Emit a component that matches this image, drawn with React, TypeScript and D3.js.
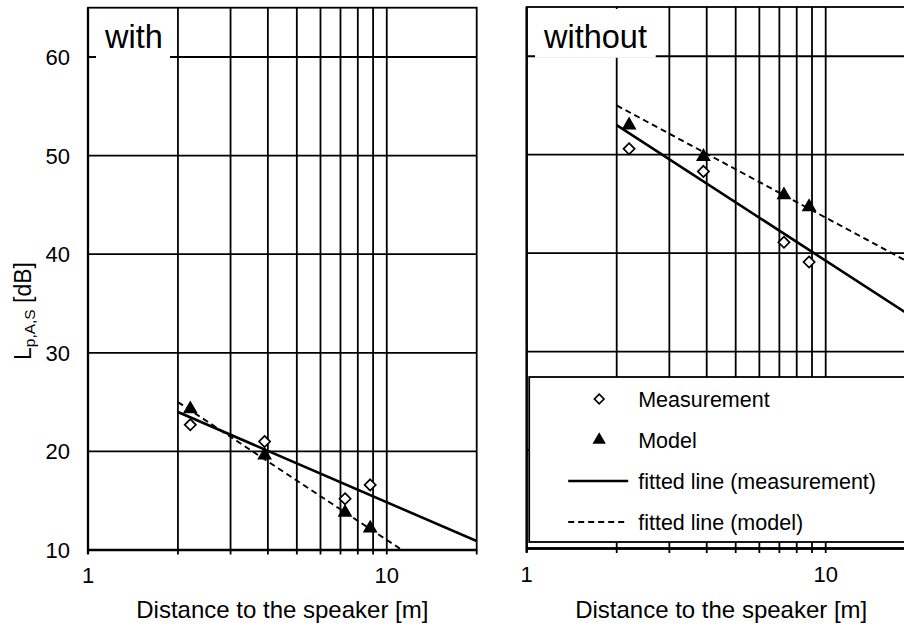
/** Sound level vs distance, two panels (with / without), log distance axis. */

import { scaleLog, scaleLinear, line, symbol, symbolTriangle } from 'd3'

const FONT = '"Liberation Sans", Arial, sans-serif'

// Distances of the measuring points [m]
const distances = [2.2, 3.9, 7.25, 8.8]

// Levels [dB]
const withMeasurement = [22.7, 21.0, 15.2, 16.6]
const withModel = [24.3, 19.6, 13.8, 12.2]
const withoutMeasurement = [50.6, 48.3, 41.1, 39.1]
const withoutModel = [53.0, 49.8, 45.9, 44.7]

// Fitted lines, read as end points [distance, level]
const withFitMeasurement: [number, number][] = [[2, 24.0], [20, 10.9]]
const withFitModel: [number, number][] = [[2, 25.0], [20, 5.0]]
const withoutFitMeasurement: [number, number][] = [[2, 53.0], [20, 33.3]]
const withoutFitModel: [number, number][] = [[2, 55.0], [20, 38.7]]

const yTicks = [10, 20, 30, 40, 50, 60]
const xGrid = [2, 3, 4, 5, 6, 7, 8, 9, 10]
const xTicks = [1, 2, 3, 4, 5, 6, 7, 8, 9, 10, 20]
const xLabels = [1, 10]

const legendItems = ['Measurement', 'Model', 'fitted line (measurement)', 'fitted line (model)']

interface PanelProps {
  id: string
  left: number
  right: number
  top: number
  bottom: number
  title: string
  titleBox: [number, number]
  measurement: number[]
  model: number[]
  fitMeasurement: [number, number][]
  fitModel: [number, number][]
  yLabels: boolean
  legend: boolean
}

function Diamond({ x, y, r = 5.6 }: { x: number; y: number; r?: number }) {
  return (
    <path
      d={`M${x},${y - r}L${x + r},${y}L${x},${y + r}L${x - r},${y}Z`}
      fill="#fff"
      stroke="#000"
      strokeWidth={1.7}
    />
  )
}

const triPath = symbol(symbolTriangle, 95)() ?? ''
const triPathSmall = symbol(symbolTriangle, 78)() ?? ''

function Triangle({ x, y, small = false }: { x: number; y: number; small?: boolean }) {
  return <path d={small ? triPathSmall : triPath} transform={`translate(${x},${y})`} fill="#000" />
}

function Panel(p: PanelProps) {
  const x = scaleLog().domain([1, 20]).range([p.left, p.right])
  const y = scaleLinear().domain([10, 65]).range([p.bottom, p.top])
  const fit = line<[number, number]>()
    .x((d) => x(d[0]))
    .y((d) => y(d[1]))

  const lx = p.left + 2.5
  const ly = p.bottom - 171.5
  const lyB = p.bottom - 6.5
  const gw = 1.8

  return (
    <g>
      <defs>
        <clipPath id={`clip-${p.id}`}>
          <rect x={p.left} y={p.top} width={p.right - p.left} height={p.bottom - p.top} />
        </clipPath>
      </defs>

      {/* grid */}
      {yTicks.map((t) => (
        <line key={`h${t}`} x1={p.left} x2={p.right} y1={y(t)} y2={y(t)} stroke="#000" strokeWidth={gw} />
      ))}
      {xGrid.map((t) => (
        <line key={`v${t}`} x1={x(t)} x2={x(t)} y1={p.top} y2={p.bottom} stroke="#000" strokeWidth={gw} />
      ))}
      <rect x={p.left} y={p.top} width={p.right - p.left} height={p.bottom - p.top} fill="none" stroke="#000" strokeWidth={gw} />

      {/* axes */}
      <line x1={p.left} x2={p.left} y1={p.top} y2={p.bottom + 4} stroke="#000" strokeWidth={2.3} />
      <line x1={p.left} x2={p.right} y1={p.bottom} y2={p.bottom} stroke="#000" strokeWidth={2.3} />
      {xTicks.map((t) => (
        <line key={`t${t}`} x1={x(t)} x2={x(t)} y1={p.bottom} y2={p.bottom + 4.5} stroke="#000" strokeWidth={gw} />
      ))}
      {xLabels.map((t) => (
        <text key={`xl${t}`} x={x(t)} y={p.bottom + 33} textAnchor="middle" fontSize={22} fontFamily={FONT}>
          {t}
        </text>
      ))}
      {p.yLabels &&
        yTicks.map((t) => (
          <text key={`yl${t}`} x={p.left - 18} y={y(t) + 8} textAnchor="end" fontSize={22} fontFamily={FONT}>
            {t}
          </text>
        ))}
      <text x={(p.left + p.right) / 2} y={618} textAnchor="middle" fontSize={24} fontFamily={FONT}>
        Distance to the speaker [m]
      </text>

      {/* fitted lines */}
      <g clipPath={`url(#clip-${p.id})`}>
        <path d={fit(p.fitMeasurement) ?? ''} fill="none" stroke="#000" strokeWidth={2.6} />
        <path d={fit(p.fitModel) ?? ''} fill="none" stroke="#000" strokeWidth={1.9} strokeDasharray="6,4" />
      </g>

      {/* points */}
      {distances.map((d, i) => (
        <Diamond key={`m${i}`} x={x(d)} y={y(p.measurement[i]!)} />
      ))}
      {distances.map((d, i) => (
        <Triangle key={`o${i}`} x={x(d)} y={y(p.model[i]!)} />
      ))}

      {/* legend */}
      {p.legend && (
        <g fontFamily={FONT} fontSize={21.5}>
          <rect x={lx} y={ly} width={p.right - lx + 10} height={lyB - ly} fill="#fff" stroke="#000" strokeWidth={gw} />
          {legendItems.map((label, i) => {
            const cy = ly + 22 + i * 41
            return (
              <g key={label}>
                {i === 0 && <Diamond x={lx + 70} y={cy} r={4.8} />}
                {i === 1 && <Triangle x={lx + 70} y={cy} small />}
                {i === 2 && <line x1={lx + 39} x2={lx + 99} y1={cy} y2={cy} stroke="#000" strokeWidth={2.6} />}
                {i === 3 && (
                  <line x1={lx + 39} x2={lx + 99} y1={cy} y2={cy} stroke="#000" strokeWidth={1.9} strokeDasharray="6,4" />
                )}
                <text x={lx + 109} y={cy + 7.6}>
                  {label}
                </text>
              </g>
            )
          })}
        </g>
      )}

      {/* panel title */}
      <rect x={p.titleBox[0]} y={p.top + 2} width={p.titleBox[1] - p.titleBox[0]} height={y(60) - p.top - 0.5} fill="#fff" />
      <text x={p.titleBox[0] + 9} y={47.5} fontSize={32.5} fontFamily={FONT}>
        {p.title}
      </text>
    </g>
  )
}

export default function App() {
  return (
    <svg width={904} height={626} style={{ position: 'absolute', left: 0, top: 0, background: '#fff' }}>
      <rect width={904} height={626} fill="#fff" />
      <Panel
        id="with"
        left={88}
        right={476.7}
        top={7.7}
        bottom={550}
        title="with"
        titleBox={[96, 170]}
        measurement={withMeasurement}
        model={withModel}
        fitMeasurement={withFitMeasurement}
        fitModel={withFitModel}
        yLabels
        legend={false}
      />
      <Panel
        id="without"
        left={526.7}
        right={915.7}
        top={7}
        bottom={548.5}
        title="without"
        titleBox={[535, 655.7]}
        measurement={withoutMeasurement}
        model={withoutModel}
        fitMeasurement={withoutFitMeasurement}
        fitModel={withoutFitModel}
        yLabels={false}
        legend
      />
      <text transform="translate(31,311) rotate(-90)" textAnchor="middle" fontSize={23} fontFamily={FONT}>
        L
        <tspan fontSize={15.5} dy={4}>
          p,A,S
        </tspan>
        <tspan dy={-4}> [dB]</tspan>
      </text>
    </svg>
  )
}
